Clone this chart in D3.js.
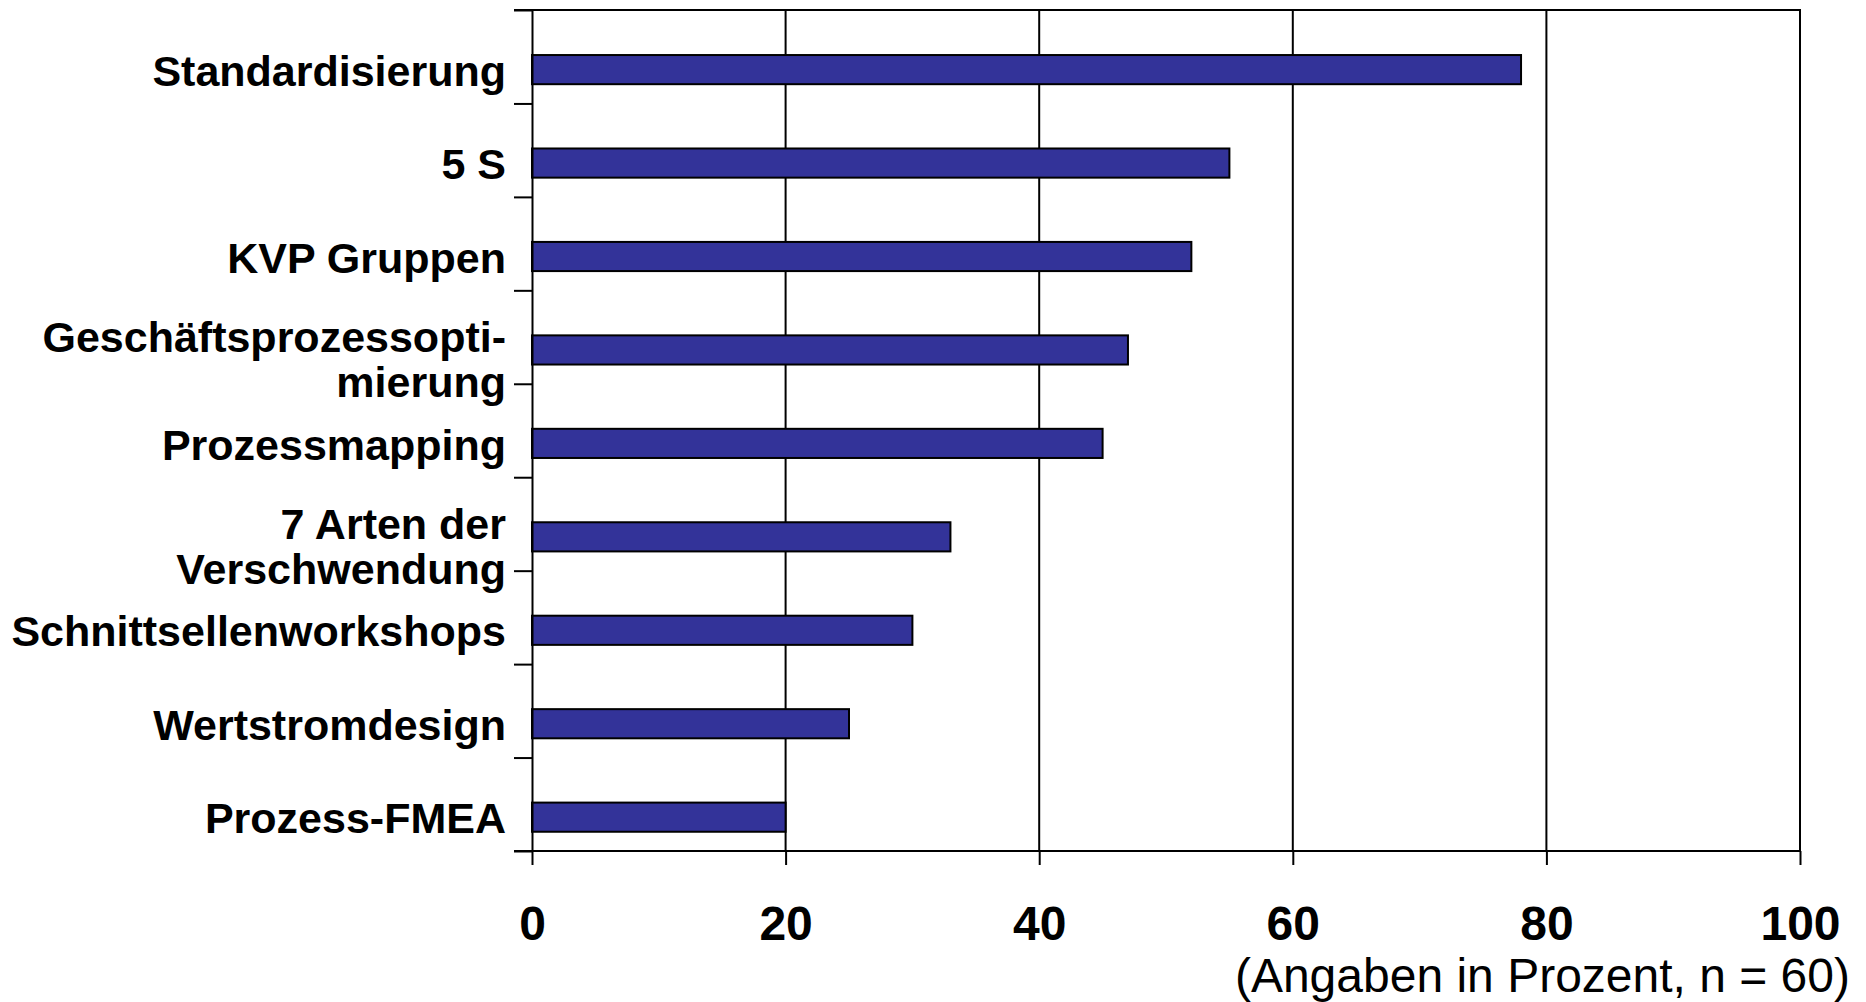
<!DOCTYPE html>
<html>
<head>
<meta charset="utf-8">
<script src="https://cdn.jsdelivr.net/npm/d3@7"></script>
<style>
  html, body { margin: 0; padding: 0; background: #fff; }
  svg { display: block; font-family: "Liberation Sans", Arial, Helvetica, sans-serif; }
</style>
</head>
<body>
<svg id="chart" width="1866" height="1002"></svg>
<script>
// Methoden und ihr Einsatz (Angaben in Prozent, n = 60)
const categories = [
  "Standardisierung",
  "5 S",
  "KVP Gruppen",
  "Geschäftsprozessopti-|mierung",
  "Prozessmapping",
  "7 Arten der|Verschwendung",
  "Schnittsellenworkshops",
  "Wertstromdesign",
  "Prozess-FMEA"
];
const values = [78, 55, 52, 47, 45, 33, 30, 25, 20];
const xTicks = [0, 20, 40, 60, 80, 100];
const note = "(Angaben in Prozent, n = 60)";

const svg = d3.select("#chart");
const plotLeft = 532, plotRight = 1800, plotTop = 10, plotBottom = 851;

const x = d3.scaleLinear().domain([0, 100]).range([plotLeft, plotRight]);
const y = d3.scaleBand().domain(categories).range([plotTop, plotBottom]).padding(0);
const yEdges = d3.scaleLinear().domain([0, categories.length]).range([plotTop, plotBottom]);

// vertical grid lines
svg.append("g")
  .selectAll("line")
  .data(xTicks.filter(t => t > 0 && t < 100))
  .join("line")
  .attr("x1", d => x(d)).attr("x2", d => x(d))
  .attr("y1", plotTop).attr("y2", plotBottom)
  .attr("stroke", "#000").attr("stroke-width", 2);

// plot frame: top and right edge
svg.append("path")
  .attr("d", `M${plotLeft - 18},${plotTop}H${plotRight}V${plotBottom}`)
  .attr("fill", "none").attr("stroke", "#000").attr("stroke-width", 2);

// bars
svg.append("g")
  .selectAll("rect")
  .data(categories)
  .join("rect")
  .attr("x", x(0))
  .attr("y", d => y(d) + y.bandwidth() * 0.482)
  .attr("width", (d, i) => x(values[i]) - x(0))
  .attr("height", y.bandwidth() * 0.312)
  .attr("fill", "#333399")
  .attr("stroke", "#000")
  .attr("stroke-width", 2);

// x axis
const xAxis = svg.append("g")
  .attr("transform", `translate(0,${plotBottom})`)
  .call(d3.axisBottom(x).tickValues(xTicks).tickSize(14).tickSizeOuter(0).tickPadding(0).tickFormat(d3.format("d")));
xAxis.select(".domain").remove();
xAxis.selectAll(".tick line").attr("stroke", "#000").attr("stroke-width", 2);
xAxis.selectAll(".tick text")
  .attr("y", 89)
  .attr("dy", null)
  .attr("fill", "#000")
  .attr("font-size", 48)
  .attr("font-weight", "bold")
  .attr("font-family", "'Liberation Sans', Arial, sans-serif");
svg.append("line")
  .attr("x1", plotLeft - 18).attr("x2", plotRight)
  .attr("y1", plotBottom).attr("y2", plotBottom)
  .attr("stroke", "#000").attr("stroke-width", 2);

// y axis: ticks on category boundaries
const yAxis = svg.append("g")
  .attr("transform", `translate(${plotLeft},0)`)
  .call(d3.axisLeft(yEdges).tickValues(d3.range(categories.length + 1)).tickSize(18).tickSizeOuter(0).tickFormat(""));
yAxis.select(".domain").attr("stroke", "#000").attr("stroke-width", 2);
yAxis.selectAll(".tick line").attr("stroke", "#000").attr("stroke-width", 2);

// category labels
const labelX = 506;
const labels = svg.append("g")
  .attr("font-size", 43)
  .attr("font-weight", "bold")
  .attr("text-anchor", "end")
  .attr("fill", "#000");
categories.forEach(c => {
  const lines = c.split("|");
  const mid = y(c) + y.bandwidth() / 2;
  const t = labels.append("text").attr("x", labelX);
  lines.forEach((ln, k) => {
    const base = lines.length === 1 ? mid + 29 : mid + 15 + k * 45;
    t.append("tspan").attr("x", labelX).attr("y", base).text(ln);
  });
});

// note below the axis
svg.append("text")
  .attr("x", 1850).attr("y", 992)
  .attr("text-anchor", "end")
  .attr("font-size", 48)
  .attr("fill", "#000")
  .text(note);
</script>
</body>
</html>
